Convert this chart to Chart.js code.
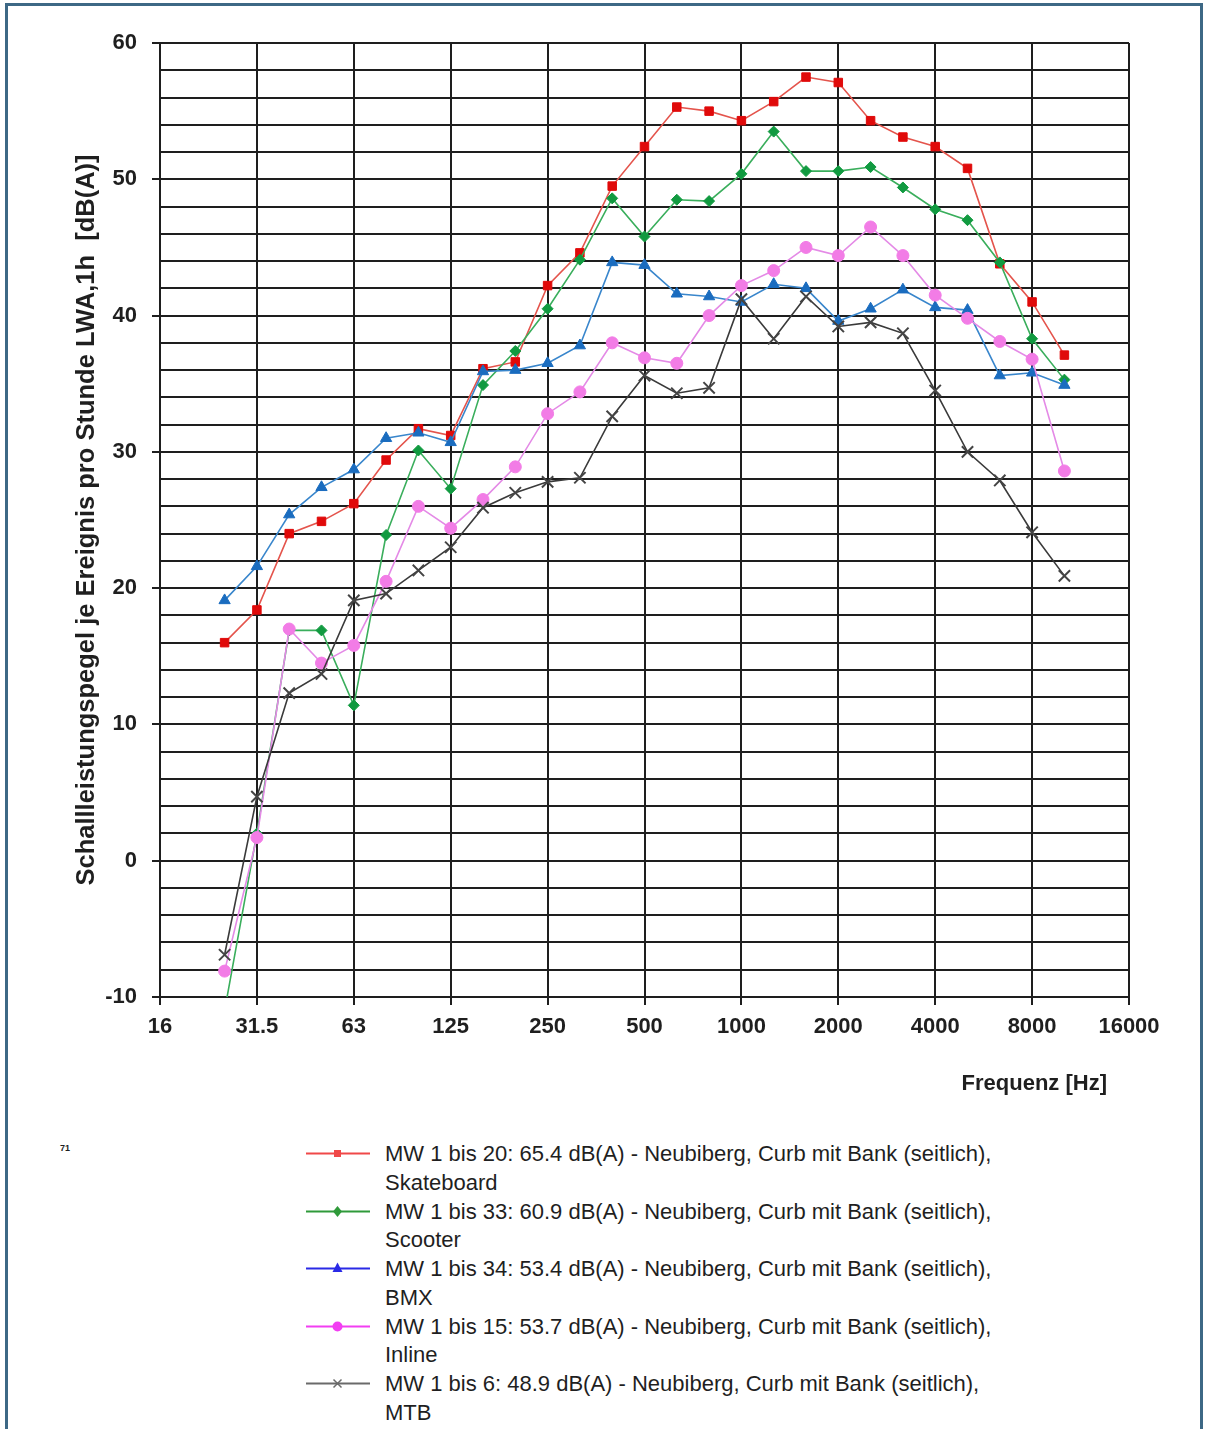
<!DOCTYPE html>
<html lang="de">
  <head>
    <meta charset="UTF-8" />
    <title>Schallleistungspegel je Ereignis</title>
    <script src="https://cdn.jsdelivr.net/npm/chart.js"></script>
    <style>
      html,
      body {
        margin: 0;
        padding: 0;
        width: 1206px;
        height: 1429px;
        overflow: hidden;
        background: #fff;
        font-family: "Liberation Sans", Arial, sans-serif;
        color: #1f1f1f;
      }
      #frame {
        position: absolute;
        left: 5px;
        top: 3px;
        width: 1198px;
        height: 1500px;
        box-sizing: border-box;
        border: 3px solid #3d6885;
      }
      #wrap {
        position: absolute;
        left: 0;
        top: 0;
        width: 1206px;
        height: 1110px;
      }
      #note {
        position: absolute;
        left: 60px;
        top: 1143px;
        font-size: 9px;
        font-weight: bold;
      }
      #legend {
        position: absolute;
        left: 305px;
        top: 1140px;
        font-size: 22px;
        line-height: 28.5px;
      }
      .item {
        display: flex;
        align-items: flex-start;
        height: 57.5px;
      }
      .item svg {
        flex: none;
        margin-right: 14px;
      }
    </style>
  </head>
  <body>
    <div id="frame"></div>
    <div id="wrap"><canvas id="chart" width="1206" height="1110"></canvas></div>
    <div id="note">71</div>
    <div id="legend"></div>
    <script>
      // Terzbänder 16 Hz .. 16000 Hz, nur Oktaven werden beschriftet
      const bands = ["16", "20", "25", "31.5", "40", "50", "63", "80", "100", "125", "160",
        "200", "250", "315", "400", "500", "630", "800", "1000", "1250", "1600", "2000",
        "2500", "3150", "4000", "5000", "6300", "8000", "10000", "12500", "16000"];

      // Messwerte 25 Hz .. 10000 Hz
      const skateboard = [16.0, 18.4, 24.0, 24.9, 26.2, 29.4, 31.7, 31.2, 36.1, 36.6, 42.2, 44.6,
        49.5, 52.4, 55.3, 55.0, 54.3, 55.7, 57.5, 57.1, 54.3, 53.1, 52.4, 50.8, 43.8, 41.0, 37.1];
      const scooter = [-11.0, 2.0, 16.9, 16.9, 11.4, 23.9, 30.1, 27.3, 34.9, 37.4, 40.5, 44.1,
        48.6, 45.8, 48.5, 48.4, 50.4, 53.5, 50.6, 50.6, 50.9, 49.4, 47.8, 47.0, 43.9, 38.3, 35.3];
      const bmx = [19.1, 21.6, 25.4, 27.4, 28.7, 31.0, 31.4, 30.7, 35.9, 36.0, 36.5, 37.8,
        43.9, 43.7, 41.6, 41.4, 41.0, 42.3, 42.0, 39.6, 40.5, 41.9, 40.6, 40.4, 35.6, 35.8, 34.9];
      const inline = [-8.1, 1.7, 17.0, 14.5, 15.8, 20.5, 26.0, 24.4, 26.5, 28.9, 32.8, 34.4,
        38.0, 36.9, 36.5, 40.0, 42.2, 43.3, 45.0, 44.4, 46.5, 44.4, 41.5, 39.8, 38.1, 36.8, 28.6];
      const mtb = [-6.9, 4.7, 12.3, 13.7, 19.1, 19.6, 21.3, 23.0, 25.9, 27.0, 27.8, 28.1,
        32.6, 35.6, 34.3, 34.7, 41.2, 38.3, 41.4, 39.2, 39.5, 38.7, 34.5, 30.0, 27.9, 24.1, 20.9];

      const seriesNames = [
        "MW 1 bis 20: 65.4 dB(A) - Neubiberg, Curb mit Bank (seitlich),",
        "MW 1 bis 33: 60.9 dB(A) - Neubiberg, Curb mit Bank (seitlich),",
        "MW 1 bis 34: 53.4 dB(A) - Neubiberg, Curb mit Bank (seitlich),",
        "MW 1 bis 15: 53.7 dB(A) - Neubiberg, Curb mit Bank (seitlich),",
        "MW 1 bis 6: 48.9 dB(A) - Neubiberg, Curb mit Bank (seitlich),",
      ];
      const seriesTypes = ["Skateboard", "Scooter", "BMX", "Inline", "MTB"];
      const seriesValues = [skateboard, scooter, bmx, inline, mtb];

      const lineColors = ["#e4544c", "#3aae5c", "#3986cc", "#e48ae6", "#3a3a3a"];
      const markColors = ["#e00a0a", "#119a40", "#1a6cbf", "#f27ce6", "#444444"];
      const legendColors = ["#f04848", "#2f9a3a", "#2a2ae6", "#f23ef2", "#6a6a6a"];
      const markStyles = ["rect", "rectRot", "triangle", "circle", "crossRot"];
      const markSizes = [6, 5.5, 6.5, 6, 8];

      const firstBand = bands.indexOf("25");
      function padded(values) {
        const out = bands.map(() => null);
        values.forEach((v, i) => (out[firstBand + i] = v));
        return out;
      }

      const datasets = seriesValues.map((vals, i) => ({
        label: seriesNames[i] + " " + seriesTypes[i],
        data: padded(vals),
        borderColor: lineColors[i],
        borderWidth: 1.6,
        pointStyle: markStyles[i],
        pointRadius: markSizes[i],
        pointBackgroundColor: markColors[i],
        pointBorderColor: markColors[i],
        pointBorderWidth: i === 4 ? 2 : 1,
        tension: 0,
        order: seriesValues.length - i,
      }));

      const gridDark = "#1e1e1e";
      const fontFamily = "'Liberation Sans', Arial, sans-serif";

      const xTitle = {
        id: "xTitle",
        afterDraw(chart) {
          const c = chart.ctx;
          c.save();
          c.font = "bold 22px " + fontFamily;
          c.fillStyle = "#1f1f1f";
          c.textAlign = "right";
          c.textBaseline = "middle";
          c.fillText("Frequenz [Hz]", chart.chartArea.right - 22, 1084);
          c.restore();
        },
      };

      new Chart(document.getElementById("chart"), {
        type: "line",
        data: { labels: bands, datasets: datasets },
        options: {
          responsive: false,
          animation: false,
          events: [],
          layout: { padding: { left: 0, right: 77, top: 43, bottom: 0 } },
          plugins: { legend: { display: false }, tooltip: { enabled: false } },
          scales: {
            x: {
              type: "category",
              offset: false,
              afterFit: (s) => (s.height = 113),
              border: { display: false },
              grid: {
                color: (ctx) => (ctx.index % 3 === 0 ? gridDark : "transparent"),
                lineWidth: 2,
                tickLength: 8,
                tickColor: (ctx) => (ctx.index % 3 === 0 ? gridDark : "transparent"),
              },
              ticks: {
                autoSkip: false,
                maxRotation: 0,
                padding: 9,
                color: "#1f1f1f",
                font: { family: fontFamily, size: 22, weight: "bold" },
                callback: (v, i) => (i % 3 === 0 ? bands[i] : ""),
              },
            },
            y: {
              min: -10,
              max: 60,
              afterFit: (s) => (s.width = 160),
              border: { display: false },
              grid: {
                color: gridDark,
                lineWidth: 2,
                tickLength: 8,
                tickColor: (ctx) =>
                  ctx.tick && ctx.tick.value % 10 === 0 ? gridDark : "transparent",
              },
              ticks: {
                stepSize: 2,
                maxTicksLimit: 100,
                autoSkip: false,
                padding: 15,
                color: "#1f1f1f",
                font: { family: fontFamily, size: 22, weight: "bold" },
                callback: (v) => (v % 10 === 0 ? v : ""),
              },
              title: {
                display: true,
                text: "Schallleistungspegel je Ereignis pro Stunde LWA,1h  [dB(A)]",
                color: "#1f1f1f",
                font: { family: fontFamily, size: 25.5, weight: "bold" },
                padding: { top: 72, bottom: 0 },
              },
            },
          },
        },
        plugins: [xTitle],
      });

      // Legende: Linie mit Marker, Text zweizeilig
      function symbol(i) {
        const col = legendColors[i];
        let mark = "";
        if (i === 0) mark = `<rect x="29" y="10" width="7" height="7" fill="${col}"/>`;
        if (i === 1) mark = `<polygon points="32.5,8 37,13.5 32.5,19 28,13.5" fill="${col}"/>`;
        if (i === 2) mark = `<polygon points="32.5,7.5 37.5,17 27.5,17" fill="${col}"/>`;
        if (i === 3) mark = `<circle cx="32.5" cy="13.5" r="5" fill="${col}"/>`;
        if (i === 4)
          mark = `<path d="M28.5 9.5 L36.5 17.5 M36.5 9.5 L28.5 17.5" stroke="${col}" stroke-width="1.5"/>`;
        return `<svg width="66" height="28"><line x1="1" y1="13.5" x2="65" y2="13.5" stroke="${col}" stroke-width="2.2"/>${mark}</svg>`;
      }
      document.getElementById("legend").innerHTML = seriesNames
        .map((n, i) => `<div class="item">${symbol(i)}<div>${n}<br>${seriesTypes[i]}</div></div>`)
        .join("");
    </script>
  </body>
</html>
